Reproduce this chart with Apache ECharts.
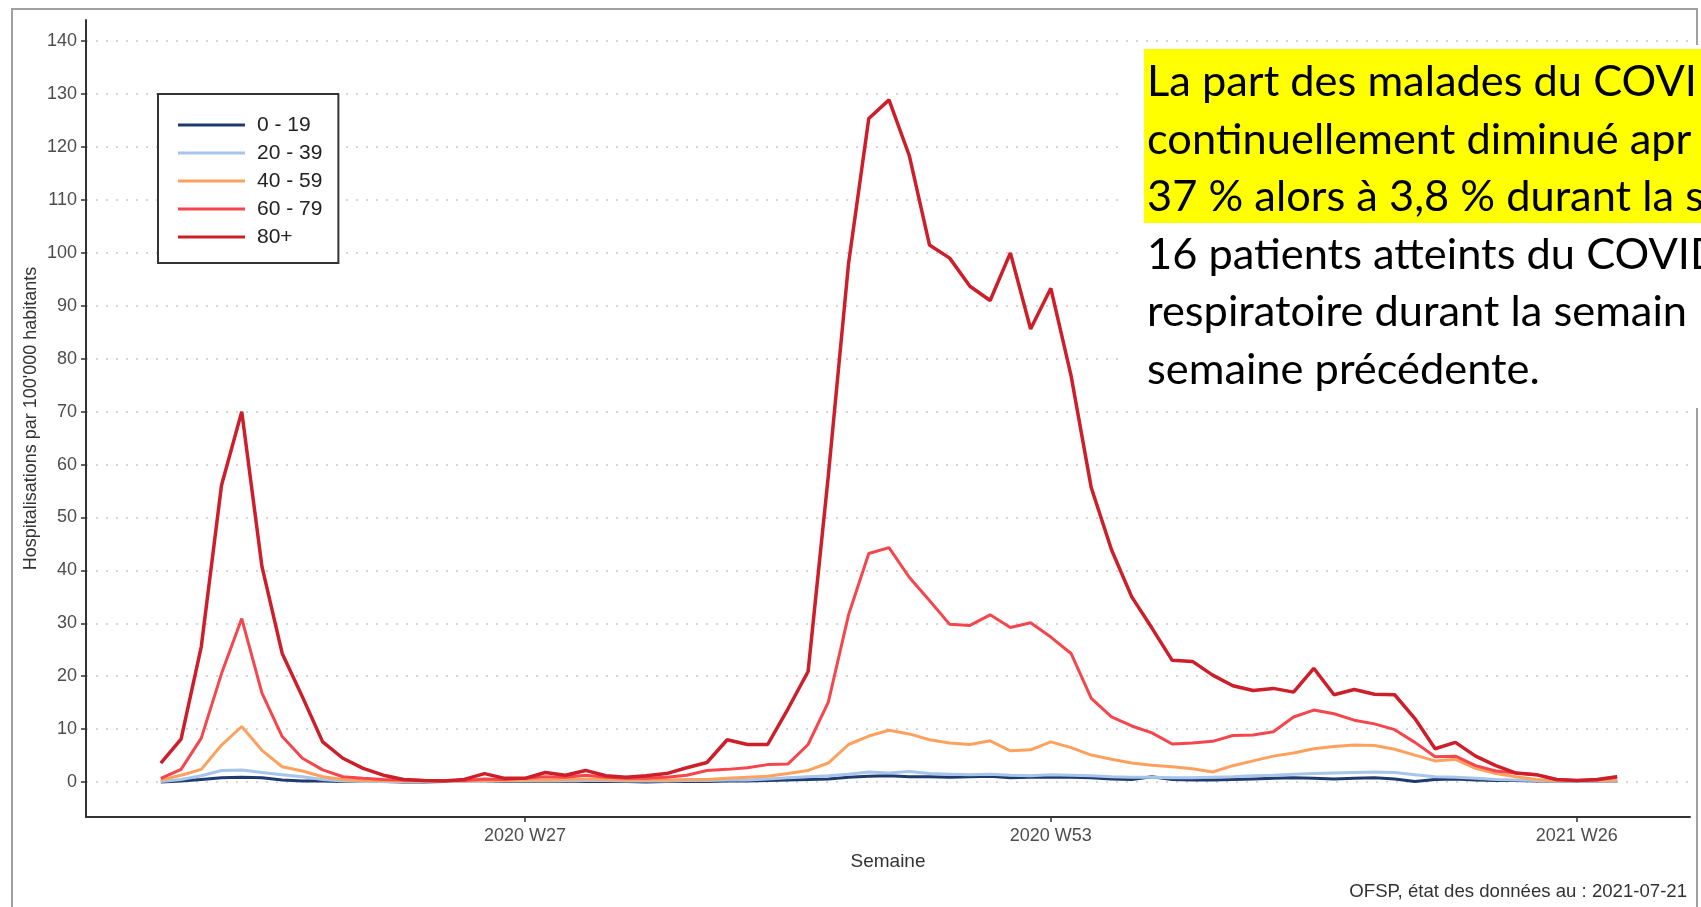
<!DOCTYPE html>
<html>
<head>
<meta charset="utf-8">
<script src="https://cdn.jsdelivr.net/npm/echarts@6/dist/echarts.min.js"></script>
<style>
  html, body { margin: 0; padding: 0; background: #fff; }
  #chart { width: 1701px; height: 907px; }
</style>
</head>
<body>
<div id="chart"></div>
<script>
// semaines 2020 W9 .. 2021 W28
const weeks = []
for (let w = 9; w <= 53; w++) weeks.push('2020 W' + w)
for (let w = 1; w <= 28; w++) weeks.push('2021 W' + w)

const ageGroups = ['0 - 19', '20 - 39', '40 - 59', '60 - 79', '80+']
const colors = ['#1f3a6e', '#a7c4ea', '#ffa15e', '#f5454d', '#cc1f2a']

const xTickIdx = [18, 44, 70]
const yTicks = [0, 10, 20, 30, 40, 50, 60, 70, 80, 90, 100, 110, 120, 130, 140]

const v0_19 = [
  0.0, 0.2, 0.5, 0.8, 0.9, 0.8, 0.4, 0.2, 0.2, 0.1, 0.1, 0.1, 0.0, 0.0, 0.1, 0.1, 0.1, 0.1, 0.1, 0.1,
  0.2, 0.1, 0.1, 0.1, 0.0, 0.1, 0.1, 0.1, 0.2, 0.2, 0.3, 0.4, 0.5, 0.6, 0.9, 1.1, 1.2, 1.0, 1.0, 0.9,
  1.0, 1.1, 0.8, 0.9, 0.9, 0.9, 0.8, 0.6, 0.5, 1.0, 0.5, 0.4, 0.4, 0.5, 0.6, 0.7, 0.8, 0.7, 0.6, 0.7,
  0.8, 0.6, 0.1, 0.5, 0.6, 0.4, 0.3, 0.3, 0.2, 0.2, 0.2, 0.2, 0.2,
]
const v20_39 = [
  0.1, 0.5, 1.2, 2.2, 2.3, 1.8, 1.4, 1.0, 0.5, 0.2, 0.1, 0.1, 0.1, 0.1, 0.1, 0.1, 0.1, 0.2, 0.2, 0.2,
  0.3, 0.3, 0.3, 0.2, 0.2, 0.2, 0.3, 0.3, 0.4, 0.4, 0.6, 0.8, 1.0, 1.2, 1.5, 1.9, 1.7, 2.0, 1.6, 1.5,
  1.4, 1.5, 1.3, 1.2, 1.4, 1.3, 1.2, 1.0, 0.9, 0.9, 0.8, 0.8, 0.9, 1.0, 1.2, 1.3, 1.5, 1.6, 1.7, 1.8,
  1.9, 1.8, 1.4, 1.0, 0.9, 0.7, 0.5, 0.4, 0.3, 0.2, 0.2, 0.2, 0.2,
]
const v40_59 = [
  0.4, 1.3, 2.4, 7.0, 10.5, 6.0, 2.9, 2.1, 1.0, 0.5, 0.3, 0.3, 0.2, 0.2, 0.2, 0.2, 0.3, 0.3, 0.4, 0.4,
  0.5, 0.6, 0.5, 0.4, 0.4, 0.4, 0.5, 0.5, 0.7, 0.9, 1.1, 1.6, 2.2, 3.6, 7.1, 8.7, 9.8, 9.1, 8.0, 7.4,
  7.1, 7.8, 5.9, 6.1, 7.6, 6.5, 5.1, 4.3, 3.6, 3.2, 2.9, 2.5, 1.9, 3.1, 4.0, 4.9, 5.5, 6.3, 6.7, 7.0,
  6.9, 6.2, 5.1, 4.0, 4.3, 2.6, 1.6, 1.0, 0.5, 0.3, 0.3, 0.3, 0.4,
]
const v60_79 = [
  0.7, 2.4, 8.3, 20.5, 30.9, 16.8, 8.6, 4.5, 2.3, 1.0, 0.7, 0.5, 0.4, 0.3, 0.3, 0.3, 0.6, 0.5, 0.7, 1.0,
  0.9, 1.3, 0.9, 0.7, 0.7, 0.9, 1.3, 2.2, 2.4, 2.7, 3.3, 3.4, 7.1, 15.1, 31.6, 43.2, 44.3, 38.7, 34.3, 29.8,
  29.6, 31.6, 29.2, 30.1, 27.4, 24.3, 15.8, 12.3, 10.6, 9.3, 7.2, 7.4, 7.7, 8.8, 8.9, 9.5, 12.3, 13.6, 12.9, 11.7,
  11.0, 9.9, 7.5, 4.8, 4.9, 3.1, 2.1, 1.7, 1.4, 0.5, 0.3, 0.4, 1.0,
]
const v80 = [
  3.6, 8.1, 25.6, 56.1, 70.0, 40.7, 24.3, 16.1, 7.6, 4.5, 2.6, 1.3, 0.5, 0.3, 0.2, 0.5, 1.6, 0.7, 0.7, 1.8,
  1.3, 2.2, 1.2, 0.9, 1.2, 1.6, 2.7, 3.7, 8.0, 7.1, 7.1, 13.8, 20.9, 57.9, 98.0, 125.4, 128.9, 118.4, 101.5, 99.0,
  93.7, 91.0, 100.0, 85.6, 93.3, 76.8, 55.6, 43.9, 35.0, 29.1, 23.0, 22.8, 20.2, 18.2, 17.3, 17.7, 17.0, 21.5, 16.5, 17.5,
  16.6, 16.5, 12.0, 6.3, 7.5, 4.9, 3.1, 1.7, 1.4, 0.5, 0.3, 0.5, 1.0,
]
const seriesValues = [v0_19, v20_39, v40_59, v60_79, v80]

const noteLines = [
  'La part des malades du COVI',
  'continuellement diminué apr',
  '37 % alors à 3,8 % durant la s',
  '16 patients atteints du COVID',
  'respiratoire durant la semain',
  'semaine précédente.',
]
const sourceText = 'OFSP, état des données au : 2021-07-21'

const chart = echarts.init(document.getElementById('chart'))

const axisFont = 'Liberation Sans, Arial, sans-serif'

chart.setOption({
  backgroundColor: '#ffffff',
  animation: false,
  grid: { left: 86, right: 11, top: 20, bottom: 90, outerBoundsMode: 'none' },
  legend: {
    left: 158,
    top: 94,
    orient: 'vertical',
    icon: 'rect',
    itemWidth: 67,
    itemHeight: 3,
    itemGap: 6,
    padding: [20, 16, 15, 20],
    borderColor: '#333',
    borderWidth: 2,
    backgroundColor: '#fff',
    textStyle: { fontFamily: axisFont, fontSize: 21, lineHeight: 22, color: '#222', padding: [0, 0, 0, 7] },
    data: ageGroups,
  },
  xAxis: {
    type: 'value',
    min: -3.7,
    max: 75.6,
    name: 'Semaine',
    nameLocation: 'middle',
    nameGap: 35,
    nameTextStyle: { fontFamily: axisFont, fontSize: 19, color: '#333' },
    axisLine: { onZero: false, lineStyle: { color: '#333', width: 2 } },
    axisTick: { customValues: xTickIdx, length: 5, lineStyle: { color: '#333', width: 1.5 } },
    axisLabel: {
      customValues: xTickIdx,
      formatter: (v) => weeks[v],
      fontFamily: axisFont,
      fontSize: 18,
      color: '#4d4d4d',
      margin: 10,
    },
    splitLine: { show: false },
  },
  yAxis: {
    type: 'value',
    min: -6.6,
    max: 144,
    name: "Hospitalisations par 100'000 habitants",
    nameLocation: 'middle',
    nameRotate: 90,
    nameGap: 46,
    nameMoveOverlap: false,
    nameTextStyle: { fontFamily: axisFont, fontSize: 18, color: '#333' },
    axisLine: { show: true, onZero: false, lineStyle: { color: '#333', width: 2 } },
    axisTick: { show: true, customValues: yTicks, length: 5, lineStyle: { color: '#333', width: 1.5 } },
    axisLabel: {
      customValues: yTicks,
      fontFamily: axisFont,
      fontSize: 18,
      color: '#4d4d4d',
      margin: 9,
    },
    splitLine: { show: true, lineStyle: { color: '#c8c8c8', width: 1.5, type: [2, 8] } },
  },
  series: seriesValues.map((vals, k) => ({
    name: ageGroups[k],
    type: 'line',
    symbol: 'none',
    color: colors[k],
    lineStyle: { width: k === 4 ? 3.5 : 3, color: colors[k] },
    data: vals.map((v, i) => [i, v]),
  })),
  graphic: [
    { type: 'rect', z: 0, silent: true, shape: { x: 12, y: 9, width: 1685, height: 920 },
      style: { fill: 'none', stroke: '#a0a0a0', lineWidth: 2 } },
    { type: 'rect', z: 100, silent: true, shape: { x: 1120, y: 45, width: 600, height: 363 },
      style: { fill: '#ffffff' } },
    { type: 'rect', z: 101, silent: true, shape: { x: 1144, y: 49, width: 600, height: 174 },
      style: { fill: '#ffff00' } },
    ...noteLines.map((t, i) => ({
      type: 'text', z: 102, silent: true, x: 1147, y: 82 + i * 57.5,
      style: { text: t, font: '43.4px Lato', fill: '#000', verticalAlign: 'middle' },
    })),
    { type: 'text', z: 102, silent: true, x: 1687, y: 892,
      style: { text: sourceText, font: '18.6px ' + axisFont, fill: '#333', align: 'right', verticalAlign: 'middle' } },
  ],
})
</script>
</body>
</html>
